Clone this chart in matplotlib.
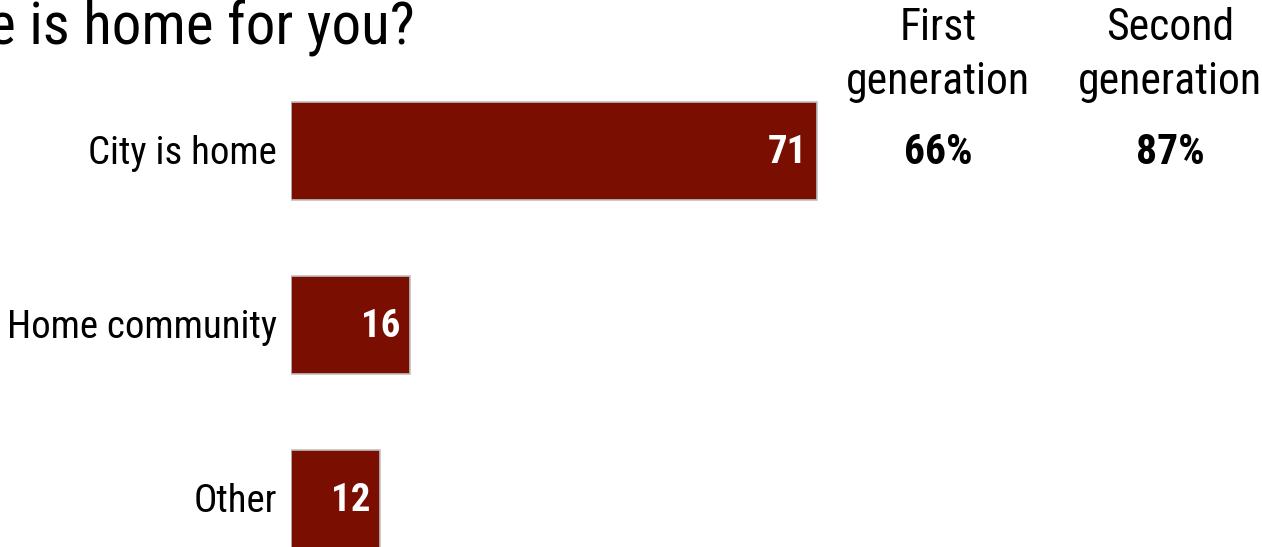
import matplotlib
matplotlib.use("Agg")
import matplotlib.pyplot as plt

plt.rcParams['font.family'] = ['Roboto Condensed', 'DejaVu Sans']

categories = ["City is home", "Home community", "Other"]
values = [71, 16, 12]
generations = ["First\ngeneration", "Second\ngeneration"]
gen_values = ["66%", "87%"]

W, H = 1262, 547
fig = plt.figure(figsize=(W / 100, H / 100), dpi=100)
# axes starts where the bars start; 526 px for 71 units
x0 = 291
ppu = 526 / 71
ax = fig.add_axes([x0 / W, 0, (W - x0) / W, 1])
ax.set_xlim(0, (W - x0) / ppu)
ax.set_ylim((H - 151) / 174, -151 / 174)

ypos = list(range(len(categories)))
ax.barh(ypos, values, height=0.563, color="#7a0e00", edgecolor="#c0c0c0", linewidth=1.2)
for y, v, c in zip(ypos, values, categories):
    ax.text(v - 1.3, y + 0.01, str(v), ha="right", va="center", color="white",
            fontsize=28, fontweight="bold")
    ax.text(-1.9, y + 0.015, c, ha="right", va="center", color="black", fontsize=28)
ax.axis("off")

fig.text(415 / W, 1 - 27 / H, "Where is home for you?", ha="right", va="center",
         fontsize=42.5)
for xc, g, gv in zip([938, 1170], generations, gen_values):
    fig.text(xc / W, 1 - 55 / H, g, ha="center", va="center", fontsize=31.5,
             linespacing=1.35)
    fig.text(xc / W, 1 - 152 / H, gv, ha="center", va="center", fontsize=30,
             fontweight="bold")

fig.savefig("out.png", dpi=100)
